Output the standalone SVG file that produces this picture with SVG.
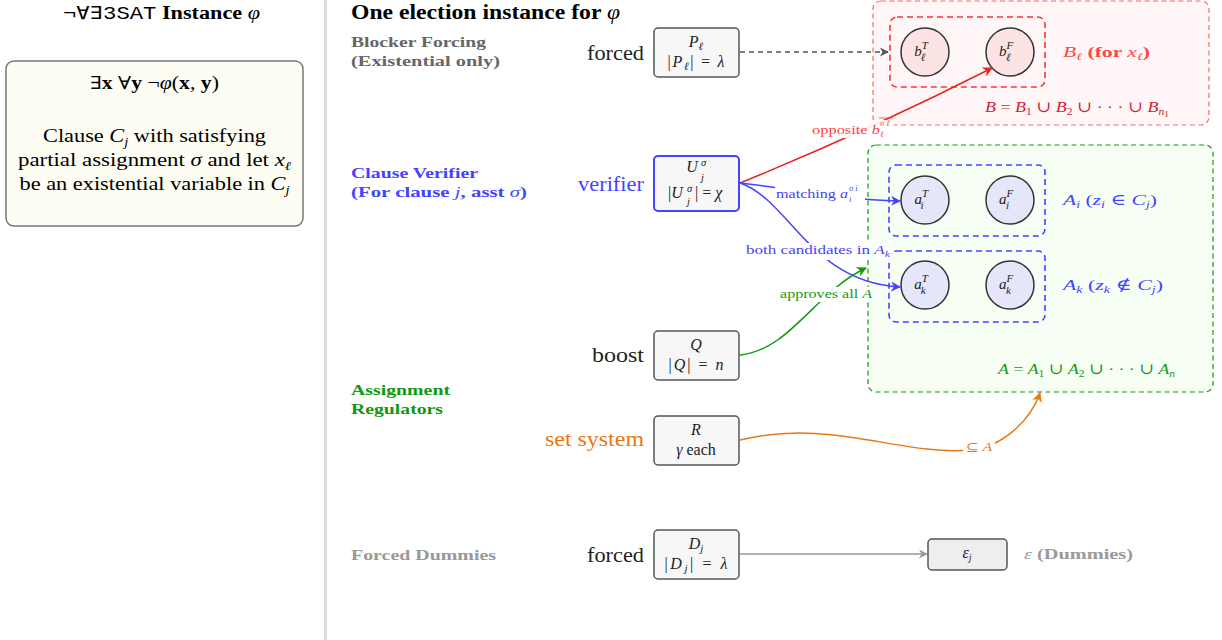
<svg xmlns="http://www.w3.org/2000/svg" width="1222" height="640" viewBox="0 0 1222 640">
<style>
text{font-family:"Liberation Serif","DejaVu Serif",serif;}
.i{font-style:italic;}
.b{font-weight:bold;}
.tt{font-family:"Liberation Mono","DejaVu Sans Mono",monospace;}
.box{fill:#f7f7f7;stroke:#555;stroke-width:1.5;}
.bt{font-size:16px;text-anchor:middle;fill:#222;}
.side{font-size:21px;text-anchor:end;}
.row{font-size:14.5px;font-weight:bold;}
.circB{fill:#fde4e4;stroke:#333;stroke-width:1.5;}
.circA{fill:#e6e6fa;stroke:#333;stroke-width:1.5;}
.ct{font-size:15px;text-anchor:middle;fill:#222;font-style:italic;}
.lbg{fill:#fff;}
</style>
<defs>
<marker id="mGray" viewBox="0 0 10 10" refX="9" refY="5" markerWidth="9" markerHeight="9" markerUnits="userSpaceOnUse" orient="auto"><path d="M0,0 L10,5 L0,10 L3,5 Z" fill="#555"/></marker>
<marker id="mLGray" viewBox="0 0 10 10" refX="9" refY="5" markerWidth="9" markerHeight="9" markerUnits="userSpaceOnUse" orient="auto"><path d="M0,0 L10,5 L0,10 L3,5 Z" fill="#999"/></marker>
<marker id="mRed" viewBox="0 0 10 10" refX="9" refY="5" markerWidth="10" markerHeight="10" markerUnits="userSpaceOnUse" orient="auto"><path d="M0,0 L10,5 L0,10 L3,5 Z" fill="#ee2222"/></marker>
<marker id="mBlue" viewBox="0 0 10 10" refX="9" refY="5" markerWidth="10" markerHeight="10" markerUnits="userSpaceOnUse" orient="auto"><path d="M0,0 L10,5 L0,10 L3,5 Z" fill="#4444ff"/></marker>
<marker id="mGreen" viewBox="0 0 10 10" refX="9" refY="5" markerWidth="10" markerHeight="10" markerUnits="userSpaceOnUse" orient="auto"><path d="M0,0 L10,5 L0,10 L3,5 Z" fill="#119911"/></marker>
<marker id="mOrange" viewBox="0 0 10 10" refX="9" refY="5" markerWidth="10" markerHeight="10" markerUnits="userSpaceOnUse" orient="auto"><path d="M0,0 L10,5 L0,10 L3,5 Z" fill="#e87811"/></marker>
</defs>
<rect x="0" y="0" width="1222" height="640" fill="#fff"/>

<!-- left panel -->
<g id="left-panel">
<text x="161.5" y="19" font-size="18" text-anchor="middle" textLength="197" lengthAdjust="spacingAndGlyphs"><tspan class="tt">¬∀∃3SAT</tspan><tspan class="b"> Instance </tspan><tspan class="i">φ</tspan></text>
<rect x="6" y="61" width="297" height="165" rx="8" fill="#fdfdf3" stroke="#777" stroke-width="1.5"/>
<text x="154.5" y="89" font-size="18" text-anchor="middle" textLength="129" lengthAdjust="spacingAndGlyphs">∃<tspan class="b">x</tspan> ∀<tspan class="b">y</tspan> ¬<tspan class="i">φ</tspan>(<tspan class="b">x</tspan>, <tspan class="b">y</tspan>)</text>
<text x="154.5" y="142" font-size="18.5" text-anchor="middle" textLength="223" lengthAdjust="spacingAndGlyphs">Clause <tspan class="i">C</tspan><tspan class="i" font-size="12" dy="4">j</tspan><tspan dy="-4"> with satisfying</tspan></text>
<text x="154.5" y="166" font-size="18.5" text-anchor="middle" textLength="273" lengthAdjust="spacingAndGlyphs">partial assignment <tspan class="i">σ</tspan> and let <tspan class="i">x</tspan><tspan class="i" font-size="12" dy="4">ℓ</tspan></text>
<text x="154.5" y="190" font-size="18.5" text-anchor="middle" textLength="270" lengthAdjust="spacingAndGlyphs">be an existential variable in <tspan class="i">C</tspan><tspan class="i" font-size="12" dy="4">j</tspan></text>
</g>
<rect x="324" y="0" width="3" height="640" fill="#dcdcdc"/>

<!-- right title and rows -->
<text x="351" y="19" font-size="20" class="b" textLength="269" lengthAdjust="spacingAndGlyphs">One election instance for <tspan class="i" font-weight="normal">φ</tspan></text>
<g id="row-labels">
<text x="351" y="47" class="row" fill="#666" textLength="135" lengthAdjust="spacingAndGlyphs">Blocker Forcing</text>
<text x="351" y="66" class="row" fill="#666" textLength="149" lengthAdjust="spacingAndGlyphs">(Existential only)</text>
<text x="351" y="178" class="row" fill="#4444ff" textLength="127" lengthAdjust="spacingAndGlyphs">Clause Verifier</text>
<text x="351" y="197" class="row" fill="#4444ff" textLength="176" lengthAdjust="spacingAndGlyphs">(For clause <tspan class="i" font-weight="normal">j</tspan>, asst <tspan class="i" font-weight="normal">σ</tspan>)</text>
<text x="351" y="395" class="row" fill="#119911" textLength="99" lengthAdjust="spacingAndGlyphs">Assignment</text>
<text x="351" y="414" class="row" fill="#119911" textLength="92" lengthAdjust="spacingAndGlyphs">Regulators</text>
<text x="351" y="560" class="row" fill="#999" textLength="145" lengthAdjust="spacingAndGlyphs">Forced Dummies</text>
</g>

<!-- regions -->
<g id="region-B">
<rect x="873" y="1" width="336" height="124" rx="8" fill="#fff7f7" stroke="#ff6666" stroke-width="1.2" stroke-dasharray="5,3.5"/>
<rect x="890" y="17" width="155" height="70" rx="7" fill="none" stroke="#ff3333" stroke-width="1.6" stroke-dasharray="6,4"/>
<text x="985" y="112" font-size="15.5" fill="#cc2233" textLength="184" lengthAdjust="spacingAndGlyphs"><tspan class="i">B</tspan> = <tspan class="i">B</tspan><tspan font-size="10" dy="3">1</tspan><tspan dy="-3"> ∪ </tspan><tspan class="i">B</tspan><tspan font-size="10" dy="3">2</tspan><tspan dy="-3"> ∪ · · · ∪ </tspan><tspan class="i">B</tspan><tspan class="i" font-size="10" dy="3">n</tspan><tspan font-size="8" dy="2">1</tspan></text>
<text x="1063" y="57" font-size="15.5" fill="#ff4444" textLength="87" lengthAdjust="spacingAndGlyphs"><tspan class="i">B</tspan><tspan class="i" font-size="10" dy="3">ℓ</tspan><tspan dy="-3" class="b"> (for </tspan><tspan class="i">x</tspan><tspan class="i" font-size="10" dy="3">ℓ</tspan><tspan dy="-3" class="b">)</tspan></text>
</g>
<g id="node-bT"><circle cx="925" cy="52" r="24" class="circB"/><text x="921" y="56" class="ct">b<tspan font-size="11" dy="-7">T</tspan><tspan font-size="11" dx="-7" dy="12">ℓ</tspan></text></g>
<g id="node-bF"><circle cx="1010" cy="52" r="24" class="circB"/><text x="1006" y="56" class="ct">b<tspan font-size="11" dy="-7">F</tspan><tspan font-size="11" dx="-7" dy="12">ℓ</tspan></text></g>

<g id="region-A">
<rect x="868" y="145" width="345" height="247" rx="8" fill="#f7fff5" stroke="#119911" stroke-width="1.2" stroke-dasharray="5,3.5"/>
<rect x="889" y="165" width="156" height="71" rx="7" fill="none" stroke="#4444ff" stroke-width="1.6" stroke-dasharray="6,4"/>
<rect x="889" y="251" width="156" height="71" rx="7" fill="none" stroke="#4444ff" stroke-width="1.6" stroke-dasharray="6,4"/>
<text x="1063" y="205" font-size="15.5" fill="#4444ff" textLength="94" lengthAdjust="spacingAndGlyphs"><tspan class="i">A</tspan><tspan class="i" font-size="10" dy="3">i</tspan><tspan dy="-3">  (</tspan><tspan class="i">z</tspan><tspan class="i" font-size="10" dy="3">i</tspan><tspan dy="-3"> ∈ </tspan><tspan class="i">C</tspan><tspan class="i" font-size="10" dy="3">j</tspan><tspan dy="-3">)</tspan></text>
<text x="1063" y="290" font-size="15.5" fill="#4444ff" textLength="100" lengthAdjust="spacingAndGlyphs"><tspan class="i">A</tspan><tspan class="i" font-size="10" dy="3">k</tspan><tspan dy="-3">  (</tspan><tspan class="i">z</tspan><tspan class="i" font-size="10" dy="3">k</tspan><tspan dy="-3"> ∉ </tspan><tspan class="i">C</tspan><tspan class="i" font-size="10" dy="3">j</tspan><tspan dy="-3">)</tspan></text>
<text x="998" y="374" font-size="15.5" fill="#119911" textLength="177" lengthAdjust="spacingAndGlyphs"><tspan class="i">A</tspan> = <tspan class="i">A</tspan><tspan font-size="10" dy="3">1</tspan><tspan dy="-3"> ∪ </tspan><tspan class="i">A</tspan><tspan font-size="10" dy="3">2</tspan><tspan dy="-3"> ∪ · · · ∪ </tspan><tspan class="i">A</tspan><tspan class="i" font-size="10" dy="3">n</tspan></text>
</g>
<g id="node-aiT"><circle cx="925" cy="200" r="24" class="circA"/><text x="921" y="204" class="ct">a<tspan font-size="11" dy="-7">T</tspan><tspan font-size="11" dx="-7" dy="12">i</tspan></text></g>
<g id="node-aiF"><circle cx="1010" cy="200" r="24" class="circA"/><text x="1006" y="204" class="ct">a<tspan font-size="11" dy="-7">F</tspan><tspan font-size="11" dx="-7" dy="12">i</tspan></text></g>
<g id="node-akT"><circle cx="925" cy="285" r="24" class="circA"/><text x="921" y="289" class="ct">a<tspan font-size="11" dy="-7">T</tspan><tspan font-size="11" dx="-7" dy="12">k</tspan></text></g>
<g id="node-akF"><circle cx="1010" cy="285" r="24" class="circA"/><text x="1006" y="289" class="ct">a<tspan font-size="11" dy="-7">F</tspan><tspan font-size="11" dx="-7" dy="12">k</tspan></text></g>

<!-- connectors -->
<g id="connectors" fill="none" stroke-width="1.5">
<path d="M740,52 L888,52" stroke="#555" stroke-dasharray="5,4" marker-end="url(#mGray)"/>
<path d="M740,183 Q870,130 992,68" stroke="#ee2222" marker-end="url(#mRed)"/>
<path d="M740,183 C780,187 840,200 900,201" stroke="#4444ff" marker-end="url(#mBlue)"/>
<path d="M740,183 C790,200 810,282 900,287" stroke="#4444ff" marker-end="url(#mBlue)"/>
<path d="M740,355 C790,350 815,292 866,268" stroke="#119911" marker-end="url(#mGreen)"/>
<path d="M740,440 C830,418 900,456 970,450 C1000,448 1030,422 1040,393" stroke="#e87811" marker-end="url(#mOrange)"/>
<path d="M740,554 L927,554" stroke="#999" marker-end="url(#mLGray)"/>
</g>
<g id="connector-labels">
<rect x="810" y="120" width="84" height="18" class="lbg" fill-opacity="0.9"/>
<text x="812" y="134" font-size="11.5" fill="#ff4444" textLength="68" lengthAdjust="spacingAndGlyphs">opposite <tspan class="i">b</tspan></text>
<text x="880" y="126" font-size="8.5" class="i" fill="#ff4444">σ ℓ</text>
<line x1="879" y1="118" x2="893" y2="118" stroke="#ff4444" stroke-width="0.8"/>
<text x="880" y="137" font-size="8.5" class="i" fill="#ff4444">ℓ</text>
<rect x="775" y="186" width="90" height="19" class="lbg"/>
<text x="776" y="198" font-size="11.5" fill="#4444ff" textLength="72" lengthAdjust="spacingAndGlyphs">matching <tspan class="i">a</tspan></text>
<text x="849" y="191" font-size="8.5" class="i" fill="#4444ff">σ i</text>
<text x="849" y="202" font-size="8.5" class="i" fill="#4444ff">i</text>
<rect x="745" y="243" width="146" height="17" class="lbg"/>
<text x="746" y="254" font-size="11.5" fill="#4444ff" textLength="144" lengthAdjust="spacingAndGlyphs">both candidates in <tspan class="i">A</tspan><tspan class="i" font-size="8" dy="3">k</tspan></text>
<rect x="779" y="287" width="93" height="15" class="lbg"/>
<text x="780" y="298" font-size="11.5" fill="#119911" textLength="92" lengthAdjust="spacingAndGlyphs">approves all <tspan class="i">A</tspan></text>
<rect x="963" y="440" width="32" height="15" class="lbg"/>
<text x="966" y="451" font-size="11.5" fill="#e87811" textLength="26" lengthAdjust="spacingAndGlyphs">⊆ <tspan class="i">A</tspan></text>
</g>

<!-- boxes -->
<g id="node-P">
<text x="644" y="60" class="side" fill="#222" textLength="57" lengthAdjust="spacingAndGlyphs">forced</text>
<rect x="654" y="28" width="85" height="49" rx="4" class="box"/>
<text x="696" y="47" class="bt"><tspan class="i">P</tspan><tspan class="i" font-size="11" dy="3">ℓ</tspan></text>
<text x="696" y="67" class="bt" textLength="57" lengthAdjust="spacing">|<tspan class="i">P</tspan><tspan class="i" font-size="11" dy="3">ℓ</tspan><tspan dy="-3">| = </tspan><tspan class="i">λ</tspan></text>
</g>
<g id="node-U">
<text x="644" y="191" class="side" fill="#4444ff" textLength="66" lengthAdjust="spacingAndGlyphs">verifier</text>
<rect x="654" y="156" width="85" height="55" rx="4" fill="#f7f7f7" stroke="#4444ff" stroke-width="2"/>
<text x="692" y="172" class="bt"><tspan class="i">U</tspan></text>
<text x="701" y="166" font-size="10.5" class="i" fill="#222">σ</text>
<text x="701" y="181" font-size="10.5" class="i" fill="#222">j</text>
<text x="668" y="198" font-size="16" fill="#222">|<tspan class="i">U</tspan></text>
<text x="687" y="192" font-size="10.5" class="i" fill="#222">σ</text>
<text x="687" y="205" font-size="10.5" class="i" fill="#222">j</text>
<text x="695" y="198" font-size="16" fill="#222">| = <tspan class="i">χ</tspan></text>
</g>
<g id="node-Q">
<text x="644" y="362" class="side" fill="#222" textLength="52" lengthAdjust="spacingAndGlyphs">boost</text>
<rect x="654" y="331" width="85" height="49" rx="4" class="box"/>
<text x="696" y="350" class="bt"><tspan class="i">Q</tspan></text>
<text x="696" y="370" class="bt" textLength="55" lengthAdjust="spacing">|<tspan class="i">Q</tspan>| = <tspan class="i">n</tspan></text>
</g>
<g id="node-R">
<text x="644" y="446" class="side" fill="#e87811" textLength="99" lengthAdjust="spacingAndGlyphs">set system</text>
<rect x="654" y="416" width="85" height="49" rx="4" class="box"/>
<text x="696" y="435" class="bt"><tspan class="i">R</tspan></text>
<text x="696" y="455" class="bt"><tspan class="i">γ</tspan> each</text>
</g>
<g id="node-D">
<text x="644" y="562" class="side" fill="#222" textLength="57" lengthAdjust="spacingAndGlyphs">forced</text>
<rect x="654" y="530" width="85" height="49" rx="4" class="box"/>
<text x="696" y="549" class="bt"><tspan class="i">D</tspan><tspan class="i" font-size="11" dy="3">j</tspan></text>
<text x="696" y="569" class="bt" textLength="63" lengthAdjust="spacing">|<tspan class="i">D</tspan><tspan class="i" font-size="11" dy="3">j</tspan><tspan dy="-3">| = </tspan><tspan class="i">λ</tspan></text>
</g>
<g id="node-eps">
<rect x="928" y="539" width="79" height="31" rx="4" fill="#eeeeee" stroke="#555" stroke-width="1.5"/>
<text x="967" y="558" class="bt" font-size="14"><tspan class="i">ε</tspan><tspan class="i" font-size="10" dy="3">j</tspan></text>
<text x="1024" y="559" font-size="14.5" fill="#999" textLength="109" lengthAdjust="spacingAndGlyphs"><tspan class="i">ε</tspan><tspan class="b"> (Dummies)</tspan></text>
</g>
</svg>
